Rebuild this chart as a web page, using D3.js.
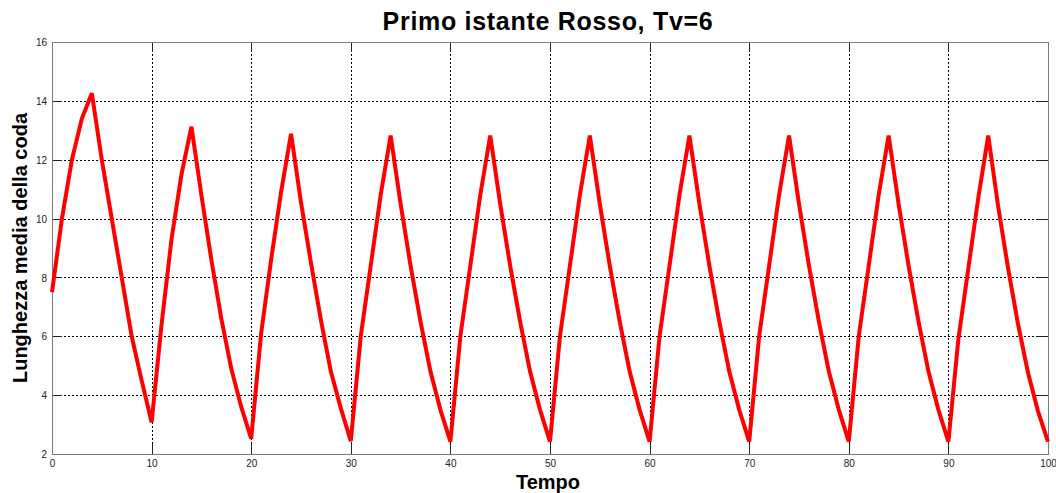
<!DOCTYPE html>
<html>
<head>
<meta charset="utf-8">
<script src="https://cdn.jsdelivr.net/npm/d3@7"></script>
<style>
  html, body { margin: 0; padding: 0; background: #fff; }
  svg { display: block; font-family: Arial, "Liberation Sans", sans-serif; }
  .tick-label { font-size: 10px; fill: #222; }
</style>
</head>
<body>
<div id="chart"></div>
<script>
(function () {
    const width = 1056, height = 493;

    // ── DATA ───────────────────────────────────────────────────────────────
    const titleText = "Primo istante Rosso, Tv=6";
    const xLabel = "Tempo";
    const yLabel = "Lunghezza media della coda";

    const xTicks = [0, 10, 20, 30, 40, 50, 60, 70, 80, 90, 100];
    const yTicks = [2, 4, 6, 8, 10, 12, 14, 16];

    // time steps 0..100
    const tempo = d3.range(0, 101);

    // mean queue length, one cycle per row
    const coda = [
        7.5, 10.0, 12.0, 13.4, 14.26, 12.0, 10.0, 8.0, 6.0, 4.5,
        3.08, 6.4, 9.3, 11.5, 13.12, 10.8, 8.6, 6.6, 4.9, 3.6,
        2.52, 6.1, 8.6, 10.9, 12.88, 10.55, 8.5, 6.55, 4.8, 3.55,
        2.44, 6.0, 8.4, 10.8, 12.82, 10.5, 8.4, 6.5, 4.8, 3.5,
        2.42, 6.0, 8.4, 10.8, 12.82, 10.5, 8.4, 6.5, 4.8, 3.5,
        2.42, 6.0, 8.4, 10.8, 12.82, 10.5, 8.4, 6.5, 4.8, 3.5,
        2.42, 6.0, 8.4, 10.8, 12.82, 10.5, 8.4, 6.5, 4.8, 3.5,
        2.42, 6.0, 8.4, 10.8, 12.82, 10.5, 8.4, 6.5, 4.8, 3.5,
        2.42, 6.0, 8.4, 10.8, 12.82, 10.5, 8.4, 6.5, 4.8, 3.5,
        2.42, 5.9, 8.3, 10.7, 12.82, 10.4, 8.3, 6.4, 4.75, 3.45,
        2.42
    ];

    // ── SVG SETUP ──────────────────────────────────────────────────────────
    const margin = { top: 42, right: 8, bottom: 39, left: 52 };
    const plotW = width - margin.left - margin.right;
    const plotH = height - margin.top - margin.bottom;

    const svg = d3.select("#chart").append("svg")
        .attr("width", width)
        .attr("height", height);

    const g = svg.append("g")
        .attr("transform", `translate(${margin.left},${margin.top})`);

    const x = d3.scaleLinear().domain([0, 100]).range([0, plotW]);
    const y = d3.scaleLinear().domain([2, 16]).range([plotH, 0]);

    // ── GRID ───────────────────────────────────────────────────────────────
    const grid = g.append("g").attr("class", "grid")
        .attr("stroke", "#000").attr("stroke-width", 1)
        .attr("stroke-dasharray", "2,2").attr("shape-rendering", "crispEdges");

    grid.selectAll(".gx").data(xTicks.slice(1, -1)).enter().append("line")
        .attr("x1", d => Math.round(x(d)) + 0.5).attr("x2", d => Math.round(x(d)) + 0.5)
        .attr("y1", 0).attr("y2", plotH);

    grid.selectAll(".gy").data(yTicks.slice(1, -1)).enter().append("line")
        .attr("y1", d => Math.round(y(d)) + 0.5).attr("y2", d => Math.round(y(d)) + 0.5)
        .attr("x1", 0).attr("x2", plotW);

    // ── AXES (ticks inside, on all four sides) ─────────────────────────────
    const tickLen = 10;
    const axB = g.append("g").attr("transform", `translate(0,${plotH})`)
        .call(d3.axisBottom(x).tickValues(xTicks).tickSizeInner(-tickLen).tickSizeOuter(0).tickPadding(6));
    const axT = g.append("g")
        .call(d3.axisTop(x).tickValues(xTicks).tickSizeInner(-tickLen).tickSizeOuter(0).tickFormat(""));
    const axL = g.append("g")
        .call(d3.axisLeft(y).tickValues(yTicks).tickSizeInner(-tickLen).tickSizeOuter(0).tickPadding(5));
    const axR = g.append("g").attr("transform", `translate(${plotW},0)`)
        .call(d3.axisRight(y).tickValues(yTicks).tickSizeInner(-tickLen).tickSizeOuter(0).tickFormat(""));

    [axB, axT, axL, axR].forEach(a => {
        a.select(".domain").remove();
        a.selectAll(".tick line").attr("stroke", "#222").attr("shape-rendering", "crispEdges");
        a.selectAll("text").attr("class", "tick-label")
            .style("font-family", "Arial, 'Liberation Sans', sans-serif");
    });
    axL.selectAll("text").attr("dy", "0.36em");

    // box
    g.append("rect")
        .attr("x", 0.5).attr("y", 0.5)
        .attr("width", plotW).attr("height", plotH)
        .attr("fill", "none").attr("stroke", "#7a7a7a").attr("stroke-width", 1.5)
        .attr("shape-rendering", "crispEdges");

    // ── LINE ───────────────────────────────────────────────────────────────
    const line = d3.line()
        .x((d, i) => x(tempo[i]))
        .y(d => y(d));

    g.append("path")
        .datum(coda)
        .attr("fill", "none")
        .attr("stroke", "#ff0000")
        .attr("stroke-width", 4)
        .attr("stroke-linejoin", "miter")
        .attr("stroke-miterlimit", 3)
        .attr("d", line);

    // ── LABELS ─────────────────────────────────────────────────────────────
    svg.append("text")
        .attr("x", margin.left + plotW / 2 - 2).attr("y", 30)
        .attr("text-anchor", "middle")
        .style("font-size", "25px").style("font-weight", "bold")
        .style("letter-spacing", "0.7px")
        .text(titleText);

    svg.append("text")
        .attr("x", margin.left + plotW / 2 - 2).attr("y", 489)
        .attr("text-anchor", "middle")
        .style("font-size", "20px").style("font-weight", "bold")
        .text(xLabel);

    svg.append("text")
        .attr("transform", `translate(27,${margin.top + plotH / 2}) rotate(-90)`)
        .attr("text-anchor", "middle")
        .style("font-size", "20px").style("font-weight", "bold")
        .text(yLabel);
})();
</script>
</body>
</html>
